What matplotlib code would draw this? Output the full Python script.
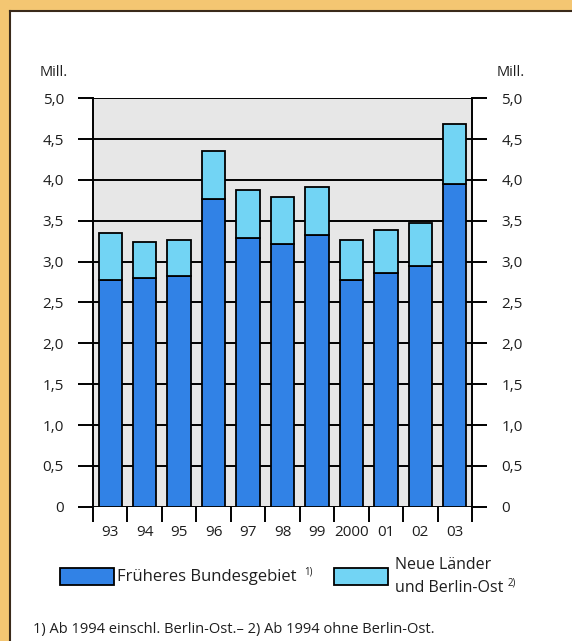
import matplotlib
matplotlib.use("Agg")
import matplotlib.pyplot as plt
from matplotlib.patches import Rectangle
from matplotlib.lines import Line2D
import numpy as np

# ─── Data ─────────────────────────────────────────────────────────────────────
years = ["93", "94", "95", "96", "97", "98", "99", "2000", "01", "02", "03"]
west = [2.77, 2.80, 2.83, 3.77, 3.29, 3.22, 3.33, 2.78, 2.86, 2.95, 3.95]
total = [3.35, 3.24, 3.27, 4.36, 3.88, 3.79, 3.92, 3.27, 3.39, 3.47, 4.68]
east = [t - w for t, w in zip(total, west)]
y_ticks = [0, 0.5, 1.0, 1.5, 2.0, 2.5, 3.0, 3.5, 4.0, 4.5, 5.0]
y_labels = ["0", "0,5", "1,0", "1,5", "2,0", "2,5", "3,0", "3,5", "4,0", "4,5", "5,0"]

# ─── Style ────────────────────────────────────────────────────────────────────
plt.rcParams["font.family"] = ["Open Sans", "DejaVu Sans"]
TEXT = "#1e1e1e"
DARK = "#3182e6"
LIGHT = "#72d4f4"
FRAME = "#f4c672"
W, H = 572, 641

fig = plt.figure(figsize=(W / 100, H / 100), dpi=100, facecolor=FRAME)

# white panel with dark top/left border
fig.patches.append(Rectangle((10 / W, 0), 1 - 10 / W, 1 - 11 / H,
                             transform=fig.transFigure, facecolor="white",
                             edgecolor="none", zorder=-10))
fig.lines.append(Line2D([10 / W, 1], [1 - 11 / H, 1 - 11 / H],
                        transform=fig.transFigure, color="#3a2a1a", lw=1.5))
fig.lines.append(Line2D([10 / W, 10 / W], [0, 1 - 11 / H],
                        transform=fig.transFigure, color="#3a2a1a", lw=1.5))

ax = fig.add_axes([93 / W, 1 - 506.7 / H, 379 / W, 408.4 / H])
ax.set_facecolor("#e7e7e7")

x = np.arange(len(years))
ax.bar(x, west, width=0.68, color=DARK, edgecolor="black", linewidth=1.3, zorder=3)
ax.bar(x, east, bottom=west, width=0.68, color=LIGHT, edgecolor="black",
       linewidth=1.3, zorder=3)

for yv in y_ticks:
    ax.axhline(yv, color="black", lw=1.4, zorder=2)

ax.set_xlim(-0.5, len(years) - 0.5)
ax.set_ylim(0, 5.0)

ax.set_yticks(y_ticks)
ax.set_yticklabels(y_labels, fontsize=11, color=TEXT)
ax.tick_params(axis="y", which="major", length=11, width=1.4, direction="out",
               left=True, right=True, labelleft=True, labelright=True, pad=10)

ax.set_xticks(x)
ax.set_xticklabels(years, fontsize=11, color=TEXT)
ax.set_xticks(np.arange(-0.5, len(years)), minor=True)
ax.tick_params(axis="x", which="major", length=0, pad=13)
ax.tick_params(axis="x", which="minor", length=11, width=1.4, direction="out")

for side in ["top", "bottom"]:
    ax.spines[side].set_visible(False)
for side in ["left", "right"]:
    ax.spines[side].set_linewidth(1.4)

fig.text(40 / W, 1 - 72 / H, "Mill.", fontsize=10.5, color=TEXT, va="center", ha="left")
fig.text(497 / W, 1 - 72 / H, "Mill.", fontsize=10.5, color=TEXT, va="center", ha="left")

# ─── Legend ───────────────────────────────────────────────────────────────────
fig.patches.append(Rectangle((60 / W, 1 - 585 / H), 54 / W, 17 / H,
                             transform=fig.transFigure, facecolor=DARK,
                             edgecolor="black", lw=1.3))
fig.text(117 / W, 1 - 577 / H, "Früheres Bundesgebiet", fontsize=12, color=TEXT,
         va="center", ha="left")
fig.text(304 / W, 1 - 572 / H, "1)", fontsize=7, color=TEXT, va="center", ha="left")

fig.patches.append(Rectangle((334 / W, 1 - 585 / H), 54 / W, 17 / H,
                             transform=fig.transFigure, facecolor=LIGHT,
                             edgecolor="black", lw=1.3))
fig.text(395 / W, 1 - 565 / H, "Neue Länder", fontsize=11.5, color=TEXT,
         va="center", ha="left")
fig.text(395 / W, 1 - 588 / H, "und Berlin-Ost", fontsize=11.5, color=TEXT,
         va="center", ha="left")
fig.text(508 / W, 1 - 583 / H, "2)", fontsize=7, color=TEXT, va="center", ha="left")

fig.text(33 / W, 1 - 630 / H,
         "1) Ab 1994 einschl. Berlin-Ost.– 2) Ab 1994 ohne Berlin-Ost.",
         fontsize=10.5, color=TEXT, va="center", ha="left")

fig.savefig("out.png", dpi=100, facecolor=FRAME)
